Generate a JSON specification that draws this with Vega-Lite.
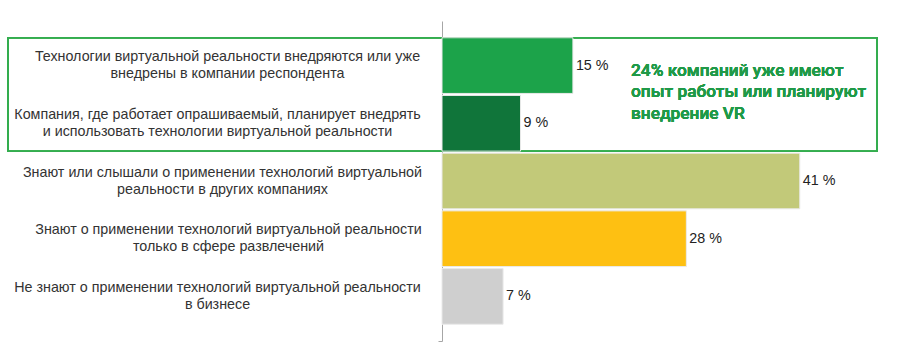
{
  "$schema": "https://vega.github.io/schema/vega-lite/v6.json",
  "autosize": {"type": "none"},
  "width": 466,
  "height": 320,
  "padding": {"left": 442, "top": 21, "right": 2, "bottom": 14},
  "background": "white",
  "config": {"view": {"stroke": null}},
  "data": {
    "values": [
      {"cat": "Технологии виртуальной реальности внедряются или уже|внедрены в компании респондента", "value": 15},
      {"cat": "Компания, где работает опрашиваемый, планирует внедрять|и использовать технологии виртуальной реальности", "value": 9},
      {"cat": "Знают или слышали о применении технологий виртуальной|реальности в других компаниях", "value": 41},
      {"cat": "Знают о применении технологий виртуальной реальности|только в сфере развлечений", "value": 28},
      {"cat": "Не знают о применении технологий виртуальной реальности|в бизнесе", "value": 7}
    ]
  },
  "resolve": {"scale": {"y": "independent"}, "axis": {"y": "independent"}},
  "layer": [
    {
      "mark": {"type": "rect", "fill": null, "stroke": "#34ad4f", "strokeWidth": 1.5, "clip": false},
      "encoding": {
        "x": {"datum": -49.73, "type": "quantitative", "scale": {"domain": [0, 53.4], "nice": false, "zero": false}, "axis": null},
        "x2": {"datum": 49.85},
        "y": {
          "datum": 0.29, "type": "quantitative",
          "scale": {"domain": [0, 5.545], "reverse": true, "nice": false, "zero": false},
          "axis": {"orient": "left", "values": [5.545], "labels": false, "domain": false, "grid": false, "ticks": true, "tickSize": 4, "tickColor": "#a6a6a6", "tickWidth": 1, "title": null}
        },
        "y2": {"datum": 2.255}
      }
    },
    {
      "mark": {"type": "text", "align": "left", "baseline": "middle", "font": "Roboto", "fontWeight": 500, "fontSize": 17.3, "lineHeight": 21.5, "color": "#1f9a48", "text": ["24% компаний уже имеют", "опыт работы или планируют", "внедрение VR"]},
      "encoding": {
        "x": {"datum": 21.66, "type": "quantitative", "scale": {"domain": [0, 53.4], "nice": false, "zero": false}, "axis": null},
        "y": {"datum": 0.866, "type": "quantitative", "scale": {"domain": [0, 5.545], "reverse": true, "nice": false, "zero": false}, "axis": null}
      }
    },
    {
      "layer": [
        {
          "mark": {"type": "bar", "stroke": "#eaeaea", "strokeWidth": 1},
          "encoding": {
            "y": {
              "field": "cat", "type": "nominal", "sort": null,
              "scale": {"paddingInner": 0.035, "paddingOuter": 0.29},
              "axis": {
                "orient": "left",
                "title": null, "ticks": false, "domain": true, "domainColor": "#a6a6a6", "domainWidth": 1,
                "labelExpr": "split(datum.value, '|')", "labelAlign": "center",
                "labelPadding": {
                  "condition": [
                    {"test": "indexof(datum.value, 'Технологии') === 0", "value": 215},
                    {"test": "indexof(datum.value, 'Компания') === 0", "value": 225},
                    {"test": "indexof(datum.value, 'Знают или') === 0", "value": 220},
                    {"test": "indexof(datum.value, 'Знают о') === 0", "value": 214}
                  ],
                  "value": 225
                },
                "labelOffset": -8.5,
                "labelFont": "Liberation Sans", "labelFontSize": 14.3, "labelColor": "#333333",
                "labelLineHeight": 17, "labelLimit": 0, "labelBaseline": "middle"
              }
            },
            "x": {"field": "value", "type": "quantitative", "scale": {"domain": [0, 53.4], "nice": false, "zero": false}, "axis": null},
            "color": {
              "field": "cat", "type": "nominal", "sort": null, "legend": null,
              "scale": {"range": ["#1ca34a", "#10753a", "#c2c979", "#fec012", "#cfcfcf"]}
            }
          }
        },
        {
          "transform": [{"calculate": "datum.value + ' %'", "as": "lbl"}],
          "mark": {"type": "text", "align": "left", "baseline": "middle", "dx": 3, "font": "Liberation Sans", "fontSize": 14.3, "color": "#222222"},
          "encoding": {
            "y": {"field": "cat", "type": "nominal", "sort": null},
            "x": {"field": "value", "type": "quantitative"},
            "text": {"field": "lbl"}
          }
        }
      ]
    }
  ]
}
